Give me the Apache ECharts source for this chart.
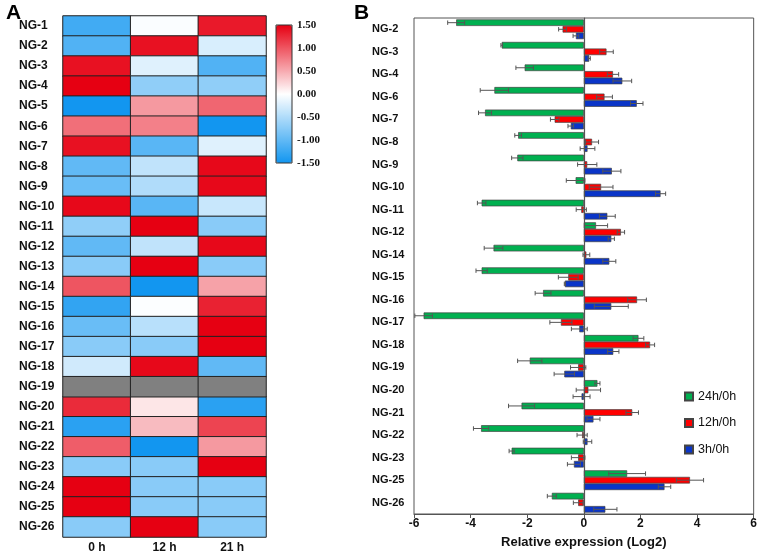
<!DOCTYPE html>
<html><head><meta charset="utf-8">
<script src="https://cdn.jsdelivr.net/npm/echarts@6/dist/echarts.min.js"></script>
<style>html,body{margin:0;padding:0;background:#fff}#c{width:760px;height:554px}</style>
</head><body><div id="c"></div>
<script>
// ---- Panel A: heatmap ----
const heatGenes = ['NG-1','NG-2','NG-3','NG-4','NG-5','NG-6','NG-7','NG-8','NG-9','NG-10','NG-11','NG-12','NG-13','NG-14','NG-15','NG-16','NG-17','NG-18','NG-19','NG-20','NG-21','NG-22','NG-23','NG-24','NG-25','NG-26'];
const heatTimes = ['0 h','12 h','21 h'];
const heat0h  = [-1.2,-1.1,1.4,1.5,-1.5,0.85,1.4,-1.0,-0.95,1.45,-0.7,-1.0,-0.75,1.0,-1.3,-0.95,-0.75,-0.3,null,1.25,-1.35,0.95,-0.75,1.5,1.5,-0.75];
const heat12h = [-0.03,1.4,-0.2,-0.7,0.6,0.75,-1.05,-0.4,-0.5,-1.05,1.5,-0.4,1.5,-1.5,-0.02,-0.45,-0.75,1.45,null,0.15,0.4,-1.5,-0.75,-0.75,-0.75,1.5];
const heat21h = [1.35,-0.25,-1.1,-0.7,0.9,-1.5,-0.2,1.45,1.45,-0.35,-0.75,1.45,-0.75,0.55,1.3,1.5,1.5,-1.0,null,-1.35,1.1,0.6,1.5,-0.75,-0.75,-0.75];
const colorTicks = [-1.5,-1.0,-0.5,0.0,0.5,1.0,1.5];

// ---- Panel B: bars ----
const barGenes = ['NG-2','NG-3','NG-4','NG-6','NG-7','NG-8','NG-9','NG-10','NG-11','NG-12','NG-14','NG-15','NG-16','NG-17','NG-18','NG-19','NG-20','NG-21','NG-22','NG-23','NG-25','NG-26'];
const seriesNames = ['24h/0h','12h/0h','3h/0h'];
const v24 = [-4.51,-2.90,-2.09,-3.16,-3.49,-2.32,-2.35,-0.29,-3.61,0.43,-3.19,-3.61,-1.44,-5.66,1.93,-1.91,0.48,-2.20,-3.63,-2.55,1.53,-1.13];
const e24 = [0.30,0.03,0.31,0.50,0.23,0.12,0.20,0.33,0.15,0.41,0.33,0.20,0.28,0.31,0.19,0.43,0.09,0.46,0.27,0.09,0.65,0.16];
const v12 = [-0.75,0.80,1.03,0.73,-1.03,0.29,0.12,0.61,-0.09,1.31,0.09,-0.55,1.88,-0.81,2.34,-0.20,0.16,1.71,-0.06,-0.20,3.75,-0.20];
const e12 = [0.14,0.24,0.20,0.28,0.15,0.23,0.34,0.42,0.18,0.13,0.12,0.35,0.33,0.39,0.16,0.27,0.43,0.22,0.18,0.24,0.48,0.17];
const v3  = [-0.28,0.19,1.36,1.87,-0.46,0.13,0.99,2.71,0.83,0.97,0.90,-0.67,0.97,-0.16,1.04,-0.69,-0.08,0.34,0.13,-0.35,2.85,0.76];
const e3  = [0.10,0.04,0.33,0.22,0.10,0.26,0.32,0.18,0.28,0.11,0.23,0.02,0.60,0.28,0.20,0.36,0.30,0.23,0.15,0.23,0.22,0.41];
const barColors = ['#00b050','#ff0000','#0a35c8'];

const BAR_W = 6.6;
const sansB = {fontFamily:'Liberation Sans, Arial, sans-serif', fontWeight:'bold', color:'#111'};

const heatData = [], missData = [];
[heat0h, heat12h, heat21h].forEach((col, j) => {
  col.forEach((v, i) => { if (v === null) missData.push([j, i, 0]); else heatData.push([j, i, v]); });
});

const vals = [v24, v12, v3], errs = [e24, e12, e3];
const barSeries = [], errSeries = [];
vals.forEach((arr, k) => {
  const s = {
    name: seriesNames[k], type: 'bar', xAxisIndex: 1, yAxisIndex: 1,
    data: arr, barWidth: BAR_W, barGap: '0%',
    itemStyle: {color: barColors[k], borderColor: '#444', borderWidth: 0.7},
    z: 2
  };
  if (k === 0) s.markLine = {silent: true, symbol: 'none', label:{show:false},
    lineStyle:{color:'#555', type:'solid', width:1.2}, data:[{xAxis:0}]};
  barSeries.push(s);
  errSeries.push({
    type: 'custom', xAxisIndex: 1, yAxisIndex: 1, z: 5, silent: true,
    data: arr.map((v, i) => [v, i, errs[k][i]]),
    renderItem: function (params, api) {
      const v = api.value(0), c = api.value(1), e = api.value(2);
      const base = api.coord([v, c]);
      const y = base[1] + (k - 1) * BAR_W;
      const p1 = api.coord([v - e, c])[0], p2 = api.coord([v + e, c])[0];
      const h = 2.2;
      const st = {stroke: '#555', lineWidth: 1};
      return {type: 'group', children: [
        {type:'line', shape:{x1:p1, y1:y, x2:p2, y2:y}, style:st},
        {type:'line', shape:{x1:p1, y1:y-h, x2:p1, y2:y+h}, style:st},
        {type:'line', shape:{x1:p2, y1:y-h, x2:p2, y2:y+h}, style:st}
      ]};
    }
  });
});

const chart = echarts.init(document.getElementById('c'), null, {renderer: 'canvas'});
chart.setOption({
  animation: false,
  title: [
    {text: 'A', left: 1, top: -2, textStyle: Object.assign({}, sansB, {fontSize: 21, color:'#000'})},
    {text: 'B', left: 349, top: -2, textStyle: Object.assign({}, sansB, {fontSize: 21, color:'#000'})}
  ],
  grid: [
    {left: 63, top: 16, width: 203, height: 522},
    {left: 414, top: 18, width: 342, height: 503, show: true, borderColor: '#555', borderWidth: 1, backgroundColor: 'transparent'},
    {left: 276, top: 25, width: 16, height: 138, show: true, borderColor: '#333', borderWidth: 1, backgroundColor: 'transparent', z: 10}
  ],
  xAxis: [
    {gridIndex: 0, type: 'category', data: heatTimes, axisLine:{show:false}, axisTick:{show:false},
     axisLabel: Object.assign({}, sansB, {fontSize: 12, margin: 5})},
    {gridIndex: 1, type: 'value', min: -6, max: 6, interval: 2, splitLine:{show:false},
     axisLine:{show:true, lineStyle:{color:'#555', width:1}}, axisTick:{show:true, length:4, lineStyle:{color:'#555'}},
     axisLabel: Object.assign({}, sansB, {fontSize: 12, margin: 4}),
     name: 'Relative expression (Log2)', nameLocation: 'middle', nameGap: 22,
     nameTextStyle: Object.assign({}, sansB, {fontSize: 13})},
    {gridIndex: 2, type: 'value', show: false, min: 0, max: 1}
  ],
  yAxis: [
    {gridIndex: 0, type: 'category', data: heatGenes, inverse: true, axisLine:{show:false}, axisTick:{show:false},
     axisLabel: Object.assign({}, sansB, {fontSize: 12, margin: 44, align: 'left'})},
    {gridIndex: 1, type: 'category', data: barGenes, inverse: true, axisLine:{show:true, lineStyle:{color:'#555'}}, axisTick:{show:false},
     axisLabel: Object.assign({}, sansB, {fontSize: 11, margin: 42, align: 'left'})},
    {gridIndex: 2, type: 'value', min: -1.5, max: 1.5, interval: 0.5, position: 'right',
     axisLine:{show:false}, axisTick:{show:false}, splitLine:{show:false},
     axisLabel: {fontFamily: 'Liberation Serif, Times New Roman, serif', fontWeight: 'bold', fontSize: 11, color: '#111', margin: 5,
       formatter: v => colorTicks.indexOf(v) >= 0 ? v.toFixed(2) : ''}}
  ],
  visualMap: {
    type: 'continuous', seriesIndex: 0, min: -1.5, max: 1.5, calculable: false,
    left: 276, top: 25, itemWidth: 16, itemHeight: 138, padding: 0, text: null, showLabel: false,
    inRange: {color: ['#1296f0', '#ffffff', '#e60012']}
  },
  legend: {
    data: seriesNames, orient: 'vertical', left: 679, top: 385, itemWidth: 8, itemHeight: 8, itemGap: 13.5,
    textStyle: Object.assign({}, sansB, {fontSize: 12.5, fontWeight: 'normal', color: '#111'}),
    icon: 'rect'
  },
  series: [
    {type: 'heatmap', xAxisIndex: 0, yAxisIndex: 0, data: heatData,
     itemStyle: {borderColor: '#222', borderWidth: 1}},
    {type: 'heatmap', xAxisIndex: 0, yAxisIndex: 0, data: missData,
     itemStyle: {color: '#808080', borderColor: '#222', borderWidth: 1}}
  ].concat(barSeries, errSeries)
});
</script></body></html>
